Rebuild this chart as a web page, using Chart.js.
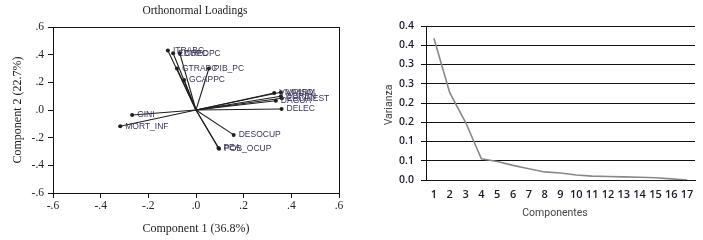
<!DOCTYPE html>
<html>
<head>
<meta charset="utf-8">
<script src="https://cdn.jsdelivr.net/npm/chart.js@4.4.1/dist/chart.umd.min.js"></script>
<style>
    html, body { margin: 0; padding: 0; background: #fff; }
    #wrap { position: relative; width: 703px; height: 240px; }
    #loadChart { position: absolute; left: 0; top: 0; }
    #screeChart { position: absolute; left: 350px; top: 0; }
</style>
</head>
<body>
<div id="wrap">
    <canvas id="loadChart" width="350" height="240"></canvas>
    <canvas id="screeChart" width="353" height="240"></canvas>
</div>
<script>
    // loadings (left chart)
    var varNames = ['ITRABC', 'EDUPC', 'CREDPC', 'GTRAPC', 'PIB_PC', 'GCAPPC',
        'VIVIRM', 'VIVPISO', 'DDREN', 'ESCINEST', 'DAGUA', 'DELEC',
        'GINI', 'MORT_INF', 'DESOCUP', 'PEA', 'POB_OCUP'];
    var comp1 = [-0.118, -0.096, -0.068, -0.080, 0.054, -0.050,
        0.356, 0.328, 0.356, 0.360, 0.335, 0.359,
        -0.268, -0.318, 0.158, 0.094, 0.097];
    var comp2 = [0.430, 0.410, 0.410, 0.300, 0.300, 0.217,
        0.128, 0.123, 0.099, 0.085, 0.067, 0.007,
        -0.036, -0.118, -0.180, -0.275, -0.280];
    var loadTicks = [-0.6, -0.4, -0.2, 0, 0.2, 0.4, 0.6];

    // scree (right chart)
    var components = ['1', '2', '3', '4', '5', '6', '7', '8', '9', '10', '11', '12', '13', '14', '15', '16', '17'];
    var varianza = [0.368, 0.227, 0.150, 0.055, 0.048, 0.038, 0.029, 0.021, 0.018,
        0.013, 0.010, 0.009, 0.008, 0.007, 0.006, 0.003, 0.000];

    var SERIF = '"Liberation Serif", "DejaVu Serif", serif';

    function shortTick(v) {
        var s = (Math.round(v * 10) / 10).toFixed(1);
        return s.replace('0.', '.');
    }

    // frame, titles and point labels for the loadings plot
    var loadDecor = {
        id: 'loadDecor',
        afterDatasetsDraw: function (chart) {
            var ctx = chart.ctx;
            var a = chart.chartArea;
            var xs = chart.scales.x;
            var ys = chart.scales.y;
            ctx.save();
            ctx.strokeStyle = '#111';
            ctx.lineWidth = 1;
            ctx.strokeRect(Math.round(a.left) + 0.5, Math.round(a.top) + 0.5,
                Math.round(a.right - a.left), Math.round(a.bottom - a.top));

            ctx.font = '8.5px "Liberation Sans", Arial, sans-serif';
            ctx.fillStyle = '#3b3358';
            ctx.textBaseline = 'middle';
            ctx.textAlign = 'left';
            for (var i = 0; i < varNames.length; i++) {
                ctx.fillText(varNames[i], xs.getPixelForValue(comp1[i]) + 5, ys.getPixelForValue(comp2[i]));
            }

            ctx.fillStyle = '#222';
            ctx.textAlign = 'center';
            ctx.font = '11.5px ' + SERIF;
            ctx.fillText('Orthonormal Loadings', 195, 11);
            ctx.font = '12px ' + SERIF;
            ctx.fillText('Component 1 (36.8%)', 196, 229);
            ctx.translate(18, 110);
            ctx.rotate(-Math.PI / 2);
            ctx.fillText('Component 2 (22.7%)', 0, 0);
            ctx.restore();
        }
    };

    function drawLoadings() {
        var datasets = varNames.map(function (name, i) {
            return {
                label: name,
                data: [{ x: 0, y: 0 }, { x: comp1[i], y: comp2[i] }],
                showLine: true,
                borderColor: '#1e1e1e',
                borderWidth: 1.1,
                pointRadius: [0, 2],
                pointBackgroundColor: '#1e1e1e',
                pointBorderWidth: 0
            };
        });

        new Chart(document.getElementById('loadChart'), {
            type: 'scatter',
            data: { datasets: datasets },
            options: {
                responsive: false,
                animation: false,
                layout: { padding: { top: 27, right: 11, left: 0, bottom: 0 } },
                plugins: { legend: { display: false }, tooltip: { enabled: false } },
                scales: {
                    x: {
                        min: -0.6,
                        max: 0.6,
                        afterBuildTicks: function (scale) {
                            scale.ticks = loadTicks.map(function (v) { return { value: v }; });
                        },
                        afterFit: function (scale) { scale.height = 47; },
                        grid: { drawOnChartArea: false, drawTicks: true, tickLength: 5, color: '#111' },
                        border: { display: true, color: '#111' },
                        ticks: {
                            padding: 1,
                            color: '#222',
                            font: { family: SERIF, size: 11.5 },
                            callback: function (v) { return shortTick(v); }
                        }
                    },
                    y: {
                        min: -0.6,
                        max: 0.6,
                        afterBuildTicks: function (scale) {
                            scale.ticks = loadTicks.map(function (v) { return { value: v }; });
                        },
                        afterFit: function (scale) { scale.width = 53; },
                        grid: { drawOnChartArea: false, drawTicks: true, tickLength: 5, color: '#111' },
                        border: { display: true, color: '#111' },
                        ticks: {
                            padding: 4,
                            color: '#222',
                            font: { family: SERIF, size: 11.5 },
                            callback: function (v) { return shortTick(v); }
                        }
                    }
                }
            },
            plugins: [loadDecor]
        });
    }

    // axis titles for the scree plot
    var screeTitles = {
        id: 'screeTitles',
        afterDraw: function (chart) {
            var ctx = chart.ctx;
            ctx.save();
            ctx.fillStyle = '#444';
            ctx.font = '10.5px Roboto, "Liberation Sans", sans-serif';
            ctx.textAlign = 'center';
            ctx.textBaseline = 'middle';
            ctx.fillText('Componentes', 205, 213);
            ctx.translate(39, 105);
            ctx.rotate(-Math.PI / 2);
            ctx.fillText('Varianza', 0, 0);
            ctx.restore();
        }
    };

    function drawScree() {
        new Chart(document.getElementById('screeChart'), {
            type: 'line',
            data: {
                labels: components,
                datasets: [{
                    label: 'Varianza',
                    data: varianza,
                    borderColor: '#888888',
                    borderWidth: 1.6,
                    pointRadius: 0,
                    tension: 0,
                    fill: false
                }]
            },
            options: {
                responsive: false,
                animation: false,
                layout: { padding: { top: 26, right: 8, left: 0, bottom: 0 } },
                plugins: { legend: { display: false }, tooltip: { enabled: false } },
                scales: {
                    x: {
                        offset: true,
                        afterFit: function (scale) { scale.height = 60; },
                        grid: { display: false, tickLength: 0 },
                        border: { display: true, color: '#111' },
                        ticks: {
                            padding: 8,
                            color: '#1a1a2a',
                            autoSkip: false,
                            maxRotation: 0,
                            font: { family: '"Open Sans", sans-serif', size: 11, weight: '600' }
                        }
                    },
                    y: {
                        min: 0,
                        max: 0.4,
                        afterFit: function (scale) { scale.width = 76; },
                        grid: { color: '#111', lineWidth: 1, drawTicks: true, tickLength: 5 },
                        border: { display: true, color: '#111' },
                        ticks: {
                            stepSize: 0.05,
                            padding: 7,
                            color: '#1a1a2a',
                            font: { family: '"Open Sans", sans-serif', size: 10.5, weight: '600' },
                            callback: function (v) { return (Math.round(v * 10 + 1e-9) / 10).toFixed(1); }
                        }
                    }
                }
            },
            plugins: [screeTitles]
        });
    }

    drawLoadings();
    drawScree();
</script>
</body>
</html>
